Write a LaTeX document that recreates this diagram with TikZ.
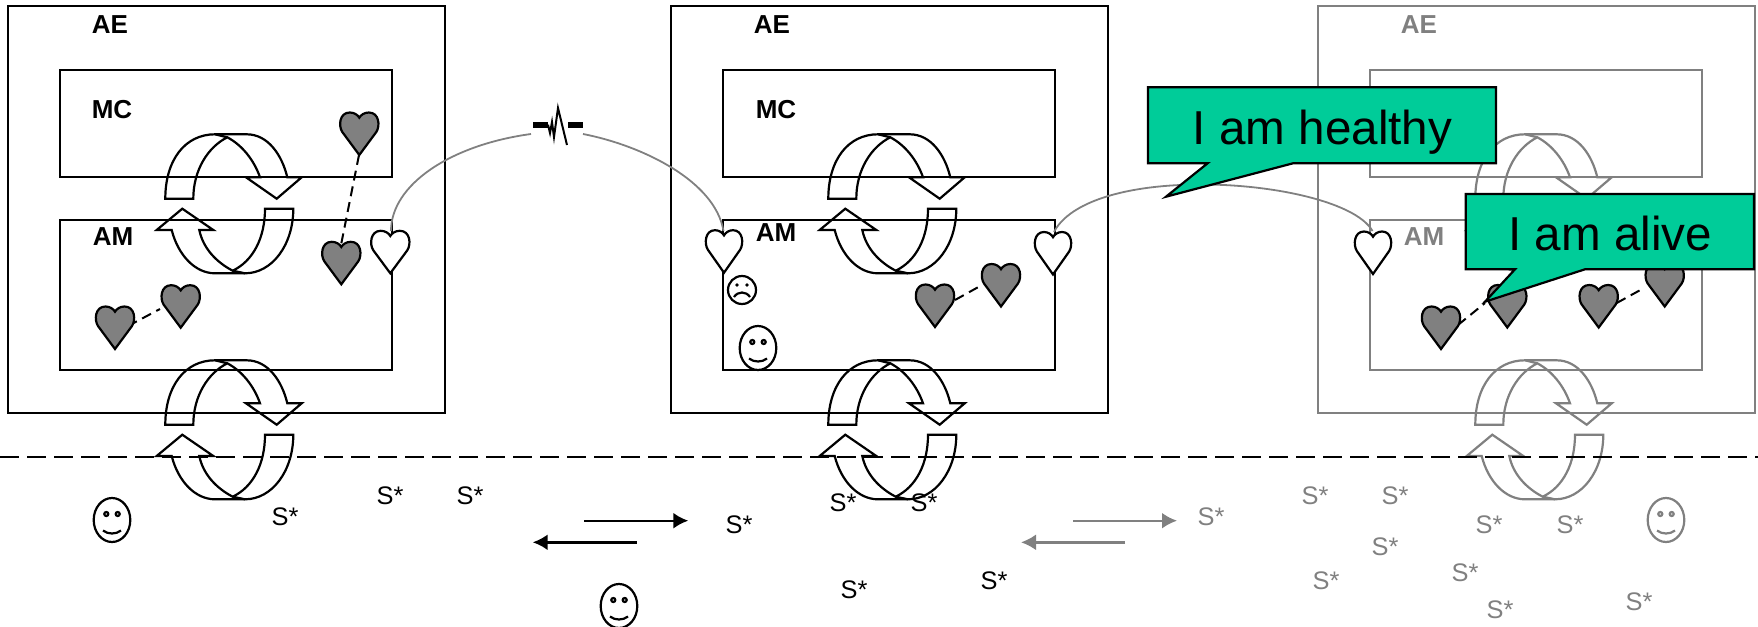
\documentclass[tikz,border=0pt]{standalone}
\usepackage{fontspec}
\setmainfont{Liberation Sans}
\usetikzlibrary{arrows.meta}
\definecolor{panelgrey}{HTML}{808080}
\definecolor{callgreen}{HTML}{00CC99}
\tikzset{
  linew/.style={line width=1.1pt,line join=miter},
  panelbox/.style={linew,draw=#1},
  lbl/.style={font=\bfseries\fontsize{13}{15}\selectfont,text=#1,inner sep=0pt},
  stext/.style={font=\fontsize{12.7}{14}\selectfont,text=#1,inner sep=0pt},
  callbox/.style={draw=black,fill=callgreen,linew},
  calltext/.style={font=\fontsize{23.8}{27}\selectfont,text=black,inner sep=0pt},
  dashline/.style={line width=1.1pt,dash pattern=on 9.5pt off 4pt},
  flowarrow/.style={line width=1.2pt,draw=#1,-{Latex[length=7.5pt,width=8pt,#1]}},
  link/.style={line width=0.9pt,draw=panelgrey},
}
% cycle of two curved arrows
\newcommand{\cycpair}[3]{%
\begin{scope}[shift={(#1,#2)},linew,draw=#3]
\draw (15.3,78.7) .. controls (15.3,40) and (35,14.3) .. (65,14.3) -- (96.7,14.3)
  .. controls (118,14.3) and (132,35) .. (137.3,57.3) -- (151.7,57.3) -- (126.7,78.7) -- (96,57.3) -- (110,57.3)
  .. controls (104,40) and (92,25) .. (77.3,17.3) .. controls (58,27) and (43.3,50) .. (43.3,78.7) -- cycle;
\draw (65,14.3) -- (77.3,17.3);
\draw (115,88.7) -- (143.3,88.7) .. controls (143.3,125) and (122,153.3) .. (95,153.3) -- (65,153.3)
  .. controls (45,153.3) and (28,135) .. (21.7,110) -- (6.7,110) -- (32.3,88.7) -- (63.3,110) -- (49.3,110)
  .. controls (53,128) and (66,142) .. (82.7,150.7) .. controls (103,141) and (115,118) .. (115,88.7) -- cycle;
\draw (82.7,150.7) -- (95,153.3);
\end{scope}}
% heart: tip x, tip y, fill, name, half width factor
\newcommand{\hrt}[5]{%
\coordinate (#4) at (#1,#2);
\begin{scope}[shift={(#1,#2)},xscale=#5]
\draw[linew,draw=black,fill=#3] (0,0) -- (-17,-23) .. controls (-21,-29) and (-20,-42.5) .. (-9.5,-42.5)
 .. controls (-5,-42.5) and (-1.5,-40) .. (0,-37.3) .. controls (1.5,-40) and (5,-42.5) .. (9.5,-42.5)
 .. controls (20,-42.5) and (21,-29) .. (17,-23) -- cycle;
\end{scope}}
% smiling face
\newcommand{\happyface}[3]{%
\begin{scope}[shift={(#1,#2)},linew,draw=#3]
\draw (0,0) ellipse [x radius=18.3,y radius=22];
\draw (-5.7,-6) circle [radius=2];
\draw (5.7,-6) circle [radius=2];
\draw (-9,10.5) .. controls (-4,14.5) and (4,14.5) .. (9,10.5);
\end{scope}}
\begin{document}
\begin{tikzpicture}[x=0.5pt,y=-0.5pt]
\path[use as bounding box] (0,0) rectangle (1758,627);
% ---- panel boxes
\foreach \ox/\ex/\col in {0/0/black,663/0/black,1310/0/panelgrey}{
  \draw[panelbox=\col] (\ox+8,6) rectangle (\ox+\ex+445,413);
  \draw[panelbox=\col] (\ox+60,70) rectangle (\ox+\ex+392,177);
  \draw[panelbox=\col] (\ox+60,220) rectangle (\ox+\ex+392,370);
  \cycpair{\ox+150}{120}{\col}
  \cycpair{\ox+150}{346}{\col}
}
% ---- horizon
\coordinate (hl) at (0,456.7);
\coordinate (hr) at (1758,456.7);
\draw[dashline] (hl) -- (hr);
% ---- labels
\node[lbl=black] (ae1) at (110,25) {AE};
\node[lbl=black] (ae2) at (772,25) {AE};
\node[lbl=panelgrey] (ae3) at (1419,25) {AE};
\node[lbl=black] (mc1) at (112,110) {MC};
\node[lbl=black] (mc2) at (776,110) {MC};
\node[lbl=black] (am1) at (113,237) {AM};
\node[lbl=black] (am2) at (776,233) {AM};
\node[lbl=panelgrey] (am3) at (1424,237) {AM};
% ---- dashed links between grey hearts (behind hearts)
\coordinate (d1a) at (359,155); \coordinate (d1b) at (341,245);
\coordinate (d2a) at (128,326); \coordinate (d2b) at (160,309);
\coordinate (d3a) at (955,300); \coordinate (d3b) at (982,285);
\coordinate (d4a) at (1458,325); \coordinate (d4b) at (1485,303);
\coordinate (d5a) at (1616.7,303); \coordinate (d5b) at (1644,288);
\foreach \a/\b in {d1a/d1b,d2a/d2b,d3a/d3b,d4a/d4b,d5a/d5b}
  \draw[line width=1pt,dash pattern=on 5pt off 3pt] (\a) -- (\b);
% ---- hearts
\hrt{359.3}{155}{panelgrey}{h1}{1}
\hrt{341.3}{284.3}{panelgrey}{h2}{1}
\hrt{115}{349}{panelgrey}{h3}{1}
\hrt{180.7}{327.7}{panelgrey}{h4}{1}
\hrt{390.3}{273.3}{white}{w1}{1}
\hrt{724}{272.7}{white}{w2}{0.95}
\hrt{1053}{274.5}{white}{w3}{0.95}
\hrt{935}{327}{panelgrey}{h5}{1}
\hrt{1001}{306.5}{panelgrey}{h6}{1}
\hrt{1373}{274}{white}{w4}{0.95}
\hrt{1441}{349}{panelgrey}{h7}{1}
\hrt{1507.3}{327.5}{panelgrey}{h8}{1}
\hrt{1598.7}{327.5}{panelgrey}{h9}{1}
\hrt{1664.7}{306.5}{panelgrey}{h10}{1}
% ---- grey links with the break symbol
\coordinate (wt1) at (391,231);
\coordinate (wt2) at (723.5,231);
\coordinate (wt3) at (1054,232);
\coordinate (wt4) at (1372.5,231);
\coordinate (bl) at (531,134);
\coordinate (br) at (583,134);
\draw[link] (wt1) .. controls (391,185) and (450,145) .. (bl);
\draw[link] (br) .. controls (640,145) and (715,180) .. (wt2);
\draw[link] (wt3) .. controls (1068,205) and (1115,188) .. (1180,185) .. controls (1260,181) and (1355,200) .. (wt4);
\draw[line width=2.8pt] (533,124.7) -- (548,124.7);
\draw[line width=2.8pt] (568,124.7) -- (583,124.7);
\draw[line width=1pt] (548,124.7) -- (550,133) -- (552,122) -- (554,137) -- (558,108) -- (567,145);
% ---- faces
\happyface{112}{520}{black}
\happyface{758}{348}{black}
\happyface{619}{606}{black}
\happyface{1666}{520}{panelgrey}
\begin{scope}[shift={(742,290)},linew]
\draw (0,0) circle [radius=14];
\fill (-5,-5) circle [radius=1.8];
\fill (5,-5) circle [radius=1.8];
\draw (-8,7) .. controls (-4,1) and (4,1) .. (8,7);
\end{scope}
% ---- S* black
\foreach \x/\y/\n in {285/517/a,390/496/b,470/496/c,739/525/d,843/503/e,924/503/f,854/590/g,994/581/h}
  \node[stext=black] (s\n) at (\x,\y) {S*};
% ---- S* grey
\foreach \x/\y/\n in {1211/517/i,1315/496/j,1395/496/k,1489/525/l,1570/525/m,1385/547/n,1326/581/o,1465/573/p,1500/610/q,1639/602/r}
  \node[stext=panelgrey] (s\n) at (\x,\y) {S*};
% ---- flow arrows
\coordinate (f1a) at (584.3,520.7); \coordinate (f1b) at (688.3,520.7);
\coordinate (f2a) at (636.7,542.3); \coordinate (f2b) at (532.7,542.3);
\coordinate (f3a) at (1073,520.7); \coordinate (f3b) at (1177,520.7);
\coordinate (f4a) at (1125,542.3); \coordinate (f4b) at (1021,542.3);
\draw[flowarrow=black] (f1a) -- (f1b);
\draw[flowarrow=black] (f2a) -- (f2b);
\draw[flowarrow=panelgrey] (f3a) -- (f3b);
\draw[flowarrow=panelgrey] (f4a) -- (f4b);
% ---- callouts
\draw[callbox] (1148,87.3) -- (1496,87.3) -- (1496,163.3) -- (1293,163.3) -- (1166,196.7) -- (1207.6,163.3) -- (1148,163.3) -- cycle;
\node[calltext] (c1) at (1322.5,132) {I am healthy};
\draw[callbox] (1465.7,194) -- (1754,194) -- (1754,269.3) -- (1585,269.3) -- (1485,301.7) -- (1515,269.3) -- (1465.7,269.3) -- cycle;
\node[calltext] (c2) at (1610.3,233) {I am alive};
\end{tikzpicture}
\end{document}
